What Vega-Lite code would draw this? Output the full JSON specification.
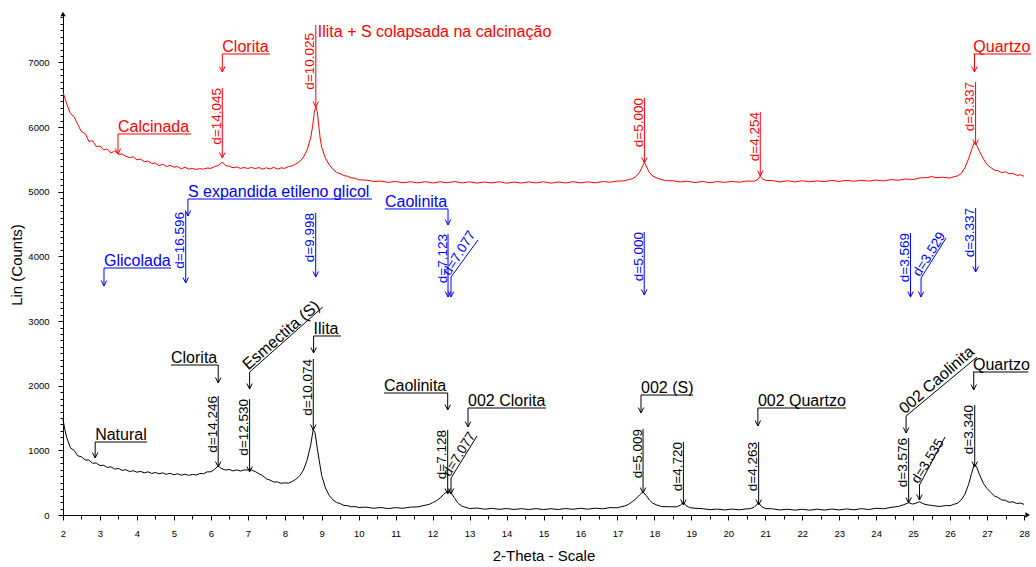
{
  "$schema": "https://vega.github.io/schema/vega-lite/v6.json",
  "width": 961,
  "height": 501,
  "autosize": {"type": "none"},
  "padding": {"left": 63, "top": 14, "right": 12, "bottom": 52},
  "background": "#ffffff",
  "config": {
    "view": {"stroke": null},
    "font": "Liberation Sans",
    "axis": {
      "grid": false,
      "domainColor": "#000000",
      "tickColor": "#000000",
      "labelColor": "#000000",
      "titleColor": "#000000",
      "labelFont": "Liberation Sans",
      "titleFont": "Liberation Sans",
      "titleFontWeight": "normal",
      "titleFontSize": 15,
      "labelFontSize": 9.5,
      "labelOverlap": false,
      "labelFlush": false
    }
  },
  "datasets": {
    "scans": [
      {"series": "Calcinada", "theta": 2.0, "counts": 6540},
      {"series": "Calcinada", "theta": 2.1, "counts": 6360},
      {"series": "Calcinada", "theta": 2.2, "counts": 6210},
      {"series": "Calcinada", "theta": 2.3, "counts": 6160},
      {"series": "Calcinada", "theta": 2.4, "counts": 6040},
      {"series": "Calcinada", "theta": 2.5, "counts": 5930},
      {"series": "Calcinada", "theta": 2.6, "counts": 5900},
      {"series": "Calcinada", "theta": 2.7, "counts": 5780},
      {"series": "Calcinada", "theta": 2.8, "counts": 5790},
      {"series": "Calcinada", "theta": 2.9, "counts": 5700},
      {"series": "Calcinada", "theta": 3.0, "counts": 5705},
      {"series": "Calcinada", "theta": 3.1, "counts": 5650},
      {"series": "Calcinada", "theta": 3.2, "counts": 5660},
      {"series": "Calcinada", "theta": 3.3, "counts": 5600},
      {"series": "Calcinada", "theta": 3.4, "counts": 5630},
      {"series": "Calcinada", "theta": 3.5, "counts": 5580},
      {"series": "Calcinada", "theta": 3.6, "counts": 5585},
      {"series": "Calcinada", "theta": 3.7, "counts": 5550},
      {"series": "Calcinada", "theta": 3.8, "counts": 5530},
      {"series": "Calcinada", "theta": 3.9, "counts": 5540},
      {"series": "Calcinada", "theta": 4.0, "counts": 5495},
      {"series": "Calcinada", "theta": 4.1, "counts": 5505},
      {"series": "Calcinada", "theta": 4.2, "counts": 5465},
      {"series": "Calcinada", "theta": 4.3, "counts": 5475},
      {"series": "Calcinada", "theta": 4.4, "counts": 5440},
      {"series": "Calcinada", "theta": 4.5, "counts": 5445},
      {"series": "Calcinada", "theta": 4.6, "counts": 5405},
      {"series": "Calcinada", "theta": 4.7, "counts": 5425},
      {"series": "Calcinada", "theta": 4.8, "counts": 5390},
      {"series": "Calcinada", "theta": 4.9, "counts": 5410},
      {"series": "Calcinada", "theta": 5.0, "counts": 5380},
      {"series": "Calcinada", "theta": 5.1, "counts": 5390},
      {"series": "Calcinada", "theta": 5.2, "counts": 5355},
      {"series": "Calcinada", "theta": 5.3, "counts": 5380},
      {"series": "Calcinada", "theta": 5.4, "counts": 5350},
      {"series": "Calcinada", "theta": 5.5, "counts": 5362},
      {"series": "Calcinada", "theta": 5.6, "counts": 5345},
      {"series": "Calcinada", "theta": 5.7, "counts": 5358},
      {"series": "Calcinada", "theta": 5.8, "counts": 5350},
      {"series": "Calcinada", "theta": 5.9, "counts": 5368},
      {"series": "Calcinada", "theta": 6.0, "counts": 5362},
      {"series": "Calcinada", "theta": 6.1, "counts": 5390},
      {"series": "Calcinada", "theta": 6.2, "counts": 5405},
      {"series": "Calcinada", "theta": 6.3, "counts": 5455},
      {"series": "Calcinada", "theta": 6.35, "counts": 5440},
      {"series": "Calcinada", "theta": 6.4, "counts": 5405},
      {"series": "Calcinada", "theta": 6.5, "counts": 5395},
      {"series": "Calcinada", "theta": 6.6, "counts": 5372},
      {"series": "Calcinada", "theta": 6.7, "counts": 5385},
      {"series": "Calcinada", "theta": 6.8, "counts": 5362},
      {"series": "Calcinada", "theta": 6.9, "counts": 5375},
      {"series": "Calcinada", "theta": 7.0, "counts": 5360},
      {"series": "Calcinada", "theta": 7.1, "counts": 5378},
      {"series": "Calcinada", "theta": 7.2, "counts": 5358},
      {"series": "Calcinada", "theta": 7.3, "counts": 5375},
      {"series": "Calcinada", "theta": 7.4, "counts": 5350},
      {"series": "Calcinada", "theta": 7.5, "counts": 5372},
      {"series": "Calcinada", "theta": 7.6, "counts": 5352},
      {"series": "Calcinada", "theta": 7.7, "counts": 5378},
      {"series": "Calcinada", "theta": 7.8, "counts": 5350},
      {"series": "Calcinada", "theta": 7.9, "counts": 5370},
      {"series": "Calcinada", "theta": 8.0, "counts": 5362},
      {"series": "Calcinada", "theta": 8.1, "counts": 5390},
      {"series": "Calcinada", "theta": 8.2, "counts": 5400},
      {"series": "Calcinada", "theta": 8.3, "counts": 5430},
      {"series": "Calcinada", "theta": 8.4, "counts": 5465},
      {"series": "Calcinada", "theta": 8.5, "counts": 5530},
      {"series": "Calcinada", "theta": 8.6, "counts": 5640},
      {"series": "Calcinada", "theta": 8.7, "counts": 5830},
      {"series": "Calcinada", "theta": 8.75, "counts": 6000},
      {"series": "Calcinada", "theta": 8.8, "counts": 6230},
      {"series": "Calcinada", "theta": 8.84, "counts": 6320},
      {"series": "Calcinada", "theta": 8.88, "counts": 6240},
      {"series": "Calcinada", "theta": 8.92, "counts": 6020},
      {"series": "Calcinada", "theta": 8.96, "counts": 5820},
      {"series": "Calcinada", "theta": 9.0, "counts": 5690},
      {"series": "Calcinada", "theta": 9.1, "counts": 5520},
      {"series": "Calcinada", "theta": 9.2, "counts": 5420},
      {"series": "Calcinada", "theta": 9.3, "counts": 5350},
      {"series": "Calcinada", "theta": 9.4, "counts": 5300},
      {"series": "Calcinada", "theta": 9.5, "counts": 5280},
      {"series": "Calcinada", "theta": 9.6, "counts": 5250},
      {"series": "Calcinada", "theta": 9.7, "counts": 5240},
      {"series": "Calcinada", "theta": 9.8, "counts": 5215},
      {"series": "Calcinada", "theta": 9.9, "counts": 5210},
      {"series": "Calcinada", "theta": 10.0, "counts": 5185},
      {"series": "Calcinada", "theta": 10.2, "counts": 5180},
      {"series": "Calcinada", "theta": 10.4, "counts": 5160},
      {"series": "Calcinada", "theta": 10.6, "counts": 5165},
      {"series": "Calcinada", "theta": 10.8, "counts": 5145},
      {"series": "Calcinada", "theta": 11.0, "counts": 5160},
      {"series": "Calcinada", "theta": 11.2, "counts": 5140},
      {"series": "Calcinada", "theta": 11.4, "counts": 5155},
      {"series": "Calcinada", "theta": 11.6, "counts": 5138},
      {"series": "Calcinada", "theta": 11.8, "counts": 5156},
      {"series": "Calcinada", "theta": 12.0, "counts": 5136},
      {"series": "Calcinada", "theta": 12.2, "counts": 5155},
      {"series": "Calcinada", "theta": 12.4, "counts": 5140},
      {"series": "Calcinada", "theta": 12.6, "counts": 5158},
      {"series": "Calcinada", "theta": 12.8, "counts": 5137},
      {"series": "Calcinada", "theta": 13.0, "counts": 5154},
      {"series": "Calcinada", "theta": 13.2, "counts": 5134},
      {"series": "Calcinada", "theta": 13.4, "counts": 5152},
      {"series": "Calcinada", "theta": 13.6, "counts": 5136},
      {"series": "Calcinada", "theta": 13.8, "counts": 5155},
      {"series": "Calcinada", "theta": 14.0, "counts": 5133},
      {"series": "Calcinada", "theta": 14.2, "counts": 5150},
      {"series": "Calcinada", "theta": 14.4, "counts": 5135},
      {"series": "Calcinada", "theta": 14.6, "counts": 5153},
      {"series": "Calcinada", "theta": 14.8, "counts": 5137},
      {"series": "Calcinada", "theta": 15.0, "counts": 5155},
      {"series": "Calcinada", "theta": 15.2, "counts": 5134},
      {"series": "Calcinada", "theta": 15.4, "counts": 5151},
      {"series": "Calcinada", "theta": 15.6, "counts": 5136},
      {"series": "Calcinada", "theta": 15.8, "counts": 5156},
      {"series": "Calcinada", "theta": 16.0, "counts": 5138},
      {"series": "Calcinada", "theta": 16.2, "counts": 5153},
      {"series": "Calcinada", "theta": 16.4, "counts": 5139},
      {"series": "Calcinada", "theta": 16.6, "counts": 5158},
      {"series": "Calcinada", "theta": 16.8, "counts": 5148},
      {"series": "Calcinada", "theta": 17.0, "counts": 5165},
      {"series": "Calcinada", "theta": 17.2, "counts": 5170},
      {"series": "Calcinada", "theta": 17.3, "counts": 5190},
      {"series": "Calcinada", "theta": 17.4, "counts": 5200},
      {"series": "Calcinada", "theta": 17.5, "counts": 5235},
      {"series": "Calcinada", "theta": 17.6, "counts": 5300},
      {"series": "Calcinada", "theta": 17.68, "counts": 5400},
      {"series": "Calcinada", "theta": 17.73, "counts": 5450},
      {"series": "Calcinada", "theta": 17.78, "counts": 5400},
      {"series": "Calcinada", "theta": 17.85, "counts": 5310},
      {"series": "Calcinada", "theta": 17.95, "counts": 5245},
      {"series": "Calcinada", "theta": 18.1, "counts": 5205},
      {"series": "Calcinada", "theta": 18.3, "counts": 5172},
      {"series": "Calcinada", "theta": 18.5, "counts": 5170},
      {"series": "Calcinada", "theta": 18.7, "counts": 5152},
      {"series": "Calcinada", "theta": 18.9, "counts": 5162},
      {"series": "Calcinada", "theta": 19.1, "counts": 5142},
      {"series": "Calcinada", "theta": 19.3, "counts": 5160},
      {"series": "Calcinada", "theta": 19.5, "counts": 5140},
      {"series": "Calcinada", "theta": 19.7, "counts": 5158},
      {"series": "Calcinada", "theta": 19.9, "counts": 5145},
      {"series": "Calcinada", "theta": 20.1, "counts": 5160},
      {"series": "Calcinada", "theta": 20.3, "counts": 5148},
      {"series": "Calcinada", "theta": 20.5, "counts": 5166},
      {"series": "Calcinada", "theta": 20.7, "counts": 5165},
      {"series": "Calcinada", "theta": 20.8, "counts": 5190},
      {"series": "Calcinada", "theta": 20.86, "counts": 5240},
      {"series": "Calcinada", "theta": 20.92, "counts": 5200},
      {"series": "Calcinada", "theta": 21.0, "counts": 5178},
      {"series": "Calcinada", "theta": 21.2, "counts": 5172},
      {"series": "Calcinada", "theta": 21.4, "counts": 5152},
      {"series": "Calcinada", "theta": 21.6, "counts": 5170},
      {"series": "Calcinada", "theta": 21.8, "counts": 5152},
      {"series": "Calcinada", "theta": 22.0, "counts": 5170},
      {"series": "Calcinada", "theta": 22.2, "counts": 5155},
      {"series": "Calcinada", "theta": 22.4, "counts": 5168},
      {"series": "Calcinada", "theta": 22.6, "counts": 5158},
      {"series": "Calcinada", "theta": 22.8, "counts": 5175},
      {"series": "Calcinada", "theta": 23.0, "counts": 5160},
      {"series": "Calcinada", "theta": 23.2, "counts": 5176},
      {"series": "Calcinada", "theta": 23.4, "counts": 5163},
      {"series": "Calcinada", "theta": 23.6, "counts": 5178},
      {"series": "Calcinada", "theta": 23.8, "counts": 5165},
      {"series": "Calcinada", "theta": 24.0, "counts": 5182},
      {"series": "Calcinada", "theta": 24.2, "counts": 5168},
      {"series": "Calcinada", "theta": 24.4, "counts": 5188},
      {"series": "Calcinada", "theta": 24.6, "counts": 5178},
      {"series": "Calcinada", "theta": 24.8, "counts": 5198},
      {"series": "Calcinada", "theta": 25.0, "counts": 5190},
      {"series": "Calcinada", "theta": 25.2, "counts": 5215},
      {"series": "Calcinada", "theta": 25.4, "counts": 5220},
      {"series": "Calcinada", "theta": 25.5, "counts": 5238},
      {"series": "Calcinada", "theta": 25.6, "counts": 5218},
      {"series": "Calcinada", "theta": 25.8, "counts": 5225},
      {"series": "Calcinada", "theta": 26.0, "counts": 5212},
      {"series": "Calcinada", "theta": 26.1, "counts": 5232},
      {"series": "Calcinada", "theta": 26.2, "counts": 5245},
      {"series": "Calcinada", "theta": 26.3, "counts": 5280},
      {"series": "Calcinada", "theta": 26.4, "counts": 5370},
      {"series": "Calcinada", "theta": 26.5, "counts": 5510},
      {"series": "Calcinada", "theta": 26.6, "counts": 5680},
      {"series": "Calcinada", "theta": 26.66, "counts": 5770},
      {"series": "Calcinada", "theta": 26.72, "counts": 5720},
      {"series": "Calcinada", "theta": 26.8, "counts": 5620},
      {"series": "Calcinada", "theta": 26.9, "counts": 5510},
      {"series": "Calcinada", "theta": 27.0, "counts": 5420},
      {"series": "Calcinada", "theta": 27.1, "counts": 5375},
      {"series": "Calcinada", "theta": 27.2, "counts": 5335},
      {"series": "Calcinada", "theta": 27.3, "counts": 5325},
      {"series": "Calcinada", "theta": 27.4, "counts": 5295},
      {"series": "Calcinada", "theta": 27.5, "counts": 5310},
      {"series": "Calcinada", "theta": 27.6, "counts": 5278},
      {"series": "Calcinada", "theta": 27.7, "counts": 5285},
      {"series": "Calcinada", "theta": 27.8, "counts": 5255},
      {"series": "Calcinada", "theta": 27.9, "counts": 5262},
      {"series": "Calcinada", "theta": 28.0, "counts": 5240},
      {"series": "Natural", "theta": 2.0, "counts": 1480},
      {"series": "Natural", "theta": 2.05, "counts": 1320},
      {"series": "Natural", "theta": 2.1, "counts": 1200},
      {"series": "Natural", "theta": 2.2, "counts": 1040},
      {"series": "Natural", "theta": 2.3, "counts": 1000},
      {"series": "Natural", "theta": 2.4, "counts": 915},
      {"series": "Natural", "theta": 2.5, "counts": 900},
      {"series": "Natural", "theta": 2.6, "counts": 850},
      {"series": "Natural", "theta": 2.7, "counts": 850},
      {"series": "Natural", "theta": 2.8, "counts": 800},
      {"series": "Natural", "theta": 2.9, "counts": 805},
      {"series": "Natural", "theta": 3.0, "counts": 765},
      {"series": "Natural", "theta": 3.1, "counts": 770},
      {"series": "Natural", "theta": 3.2, "counts": 735},
      {"series": "Natural", "theta": 3.3, "counts": 745},
      {"series": "Natural", "theta": 3.4, "counts": 710},
      {"series": "Natural", "theta": 3.5, "counts": 720},
      {"series": "Natural", "theta": 3.6, "counts": 690},
      {"series": "Natural", "theta": 3.7, "counts": 700},
      {"series": "Natural", "theta": 3.8, "counts": 672},
      {"series": "Natural", "theta": 3.9, "counts": 685},
      {"series": "Natural", "theta": 4.0, "counts": 662},
      {"series": "Natural", "theta": 4.1, "counts": 675},
      {"series": "Natural", "theta": 4.2, "counts": 652},
      {"series": "Natural", "theta": 4.3, "counts": 668},
      {"series": "Natural", "theta": 4.4, "counts": 642},
      {"series": "Natural", "theta": 4.5, "counts": 658},
      {"series": "Natural", "theta": 4.6, "counts": 638},
      {"series": "Natural", "theta": 4.7, "counts": 652},
      {"series": "Natural", "theta": 4.8, "counts": 628},
      {"series": "Natural", "theta": 4.9, "counts": 645},
      {"series": "Natural", "theta": 5.0, "counts": 622},
      {"series": "Natural", "theta": 5.1, "counts": 638},
      {"series": "Natural", "theta": 5.2, "counts": 615},
      {"series": "Natural", "theta": 5.3, "counts": 632},
      {"series": "Natural", "theta": 5.4, "counts": 612},
      {"series": "Natural", "theta": 5.5, "counts": 628},
      {"series": "Natural", "theta": 5.6, "counts": 618},
      {"series": "Natural", "theta": 5.7, "counts": 642},
      {"series": "Natural", "theta": 5.8, "counts": 638},
      {"series": "Natural", "theta": 5.9, "counts": 668},
      {"series": "Natural", "theta": 6.0, "counts": 668},
      {"series": "Natural", "theta": 6.1, "counts": 705},
      {"series": "Natural", "theta": 6.2, "counts": 760},
      {"series": "Natural", "theta": 6.25, "counts": 735},
      {"series": "Natural", "theta": 6.3, "counts": 715},
      {"series": "Natural", "theta": 6.4, "counts": 695},
      {"series": "Natural", "theta": 6.5, "counts": 705},
      {"series": "Natural", "theta": 6.6, "counts": 682},
      {"series": "Natural", "theta": 6.7, "counts": 698},
      {"series": "Natural", "theta": 6.8, "counts": 680},
      {"series": "Natural", "theta": 6.9, "counts": 698},
      {"series": "Natural", "theta": 7.0, "counts": 695},
      {"series": "Natural", "theta": 7.05, "counts": 720},
      {"series": "Natural", "theta": 7.1, "counts": 695},
      {"series": "Natural", "theta": 7.2, "counts": 672},
      {"series": "Natural", "theta": 7.3, "counts": 640},
      {"series": "Natural", "theta": 7.4, "counts": 610},
      {"series": "Natural", "theta": 7.5, "counts": 560},
      {"series": "Natural", "theta": 7.6, "counts": 540},
      {"series": "Natural", "theta": 7.7, "counts": 510},
      {"series": "Natural", "theta": 7.8, "counts": 512},
      {"series": "Natural", "theta": 7.9, "counts": 490},
      {"series": "Natural", "theta": 8.0, "counts": 498},
      {"series": "Natural", "theta": 8.1, "counts": 492},
      {"series": "Natural", "theta": 8.2, "counts": 518},
      {"series": "Natural", "theta": 8.3, "counts": 552},
      {"series": "Natural", "theta": 8.4, "counts": 605},
      {"series": "Natural", "theta": 8.5, "counts": 690},
      {"series": "Natural", "theta": 8.6, "counts": 840},
      {"series": "Natural", "theta": 8.7, "counts": 1080},
      {"series": "Natural", "theta": 8.77, "counts": 1320},
      {"series": "Natural", "theta": 8.82, "counts": 1270},
      {"series": "Natural", "theta": 8.88, "counts": 1030},
      {"series": "Natural", "theta": 8.95, "counts": 780},
      {"series": "Natural", "theta": 9.0, "counts": 610},
      {"series": "Natural", "theta": 9.1, "counts": 420},
      {"series": "Natural", "theta": 9.2, "counts": 305},
      {"series": "Natural", "theta": 9.3, "counts": 235},
      {"series": "Natural", "theta": 9.4, "counts": 195},
      {"series": "Natural", "theta": 9.5, "counts": 175},
      {"series": "Natural", "theta": 9.6, "counts": 148},
      {"series": "Natural", "theta": 9.7, "counts": 145},
      {"series": "Natural", "theta": 9.8, "counts": 126},
      {"series": "Natural", "theta": 9.9, "counts": 132},
      {"series": "Natural", "theta": 10.0, "counts": 116},
      {"series": "Natural", "theta": 10.2, "counts": 122},
      {"series": "Natural", "theta": 10.4, "counts": 104},
      {"series": "Natural", "theta": 10.6, "counts": 116},
      {"series": "Natural", "theta": 10.8, "counts": 99},
      {"series": "Natural", "theta": 11.0, "counts": 114},
      {"series": "Natural", "theta": 11.2, "counts": 104},
      {"series": "Natural", "theta": 11.4, "counts": 122},
      {"series": "Natural", "theta": 11.6, "counts": 126},
      {"series": "Natural", "theta": 11.8, "counts": 152},
      {"series": "Natural", "theta": 11.9, "counts": 162},
      {"series": "Natural", "theta": 12.0, "counts": 190},
      {"series": "Natural", "theta": 12.1, "counts": 220},
      {"series": "Natural", "theta": 12.2, "counts": 260},
      {"series": "Natural", "theta": 12.3, "counts": 320},
      {"series": "Natural", "theta": 12.41, "counts": 370},
      {"series": "Natural", "theta": 12.5, "counts": 345},
      {"series": "Natural", "theta": 12.6, "counts": 255},
      {"series": "Natural", "theta": 12.7, "counts": 175},
      {"series": "Natural", "theta": 12.8, "counts": 135},
      {"series": "Natural", "theta": 12.9, "counts": 118},
      {"series": "Natural", "theta": 13.0, "counts": 100},
      {"series": "Natural", "theta": 13.2, "counts": 108},
      {"series": "Natural", "theta": 13.4, "counts": 90},
      {"series": "Natural", "theta": 13.6, "counts": 102},
      {"series": "Natural", "theta": 13.8, "counts": 88},
      {"series": "Natural", "theta": 14.0, "counts": 100},
      {"series": "Natural", "theta": 14.2, "counts": 86},
      {"series": "Natural", "theta": 14.4, "counts": 98},
      {"series": "Natural", "theta": 14.6, "counts": 85},
      {"series": "Natural", "theta": 14.8, "counts": 99},
      {"series": "Natural", "theta": 15.0, "counts": 84},
      {"series": "Natural", "theta": 15.2, "counts": 97},
      {"series": "Natural", "theta": 15.4, "counts": 85},
      {"series": "Natural", "theta": 15.6, "counts": 100},
      {"series": "Natural", "theta": 15.8, "counts": 88},
      {"series": "Natural", "theta": 16.0, "counts": 104},
      {"series": "Natural", "theta": 16.2, "counts": 90},
      {"series": "Natural", "theta": 16.4, "counts": 106},
      {"series": "Natural", "theta": 16.6, "counts": 96},
      {"series": "Natural", "theta": 16.8, "counts": 114},
      {"series": "Natural", "theta": 17.0, "counts": 112},
      {"series": "Natural", "theta": 17.1, "counts": 128},
      {"series": "Natural", "theta": 17.2, "counts": 140},
      {"series": "Natural", "theta": 17.3, "counts": 165},
      {"series": "Natural", "theta": 17.4, "counts": 205},
      {"series": "Natural", "theta": 17.5, "counts": 250},
      {"series": "Natural", "theta": 17.6, "counts": 310},
      {"series": "Natural", "theta": 17.69, "counts": 360},
      {"series": "Natural", "theta": 17.78, "counts": 300},
      {"series": "Natural", "theta": 17.87, "counts": 230},
      {"series": "Natural", "theta": 17.95, "counts": 185},
      {"series": "Natural", "theta": 18.05, "counts": 158},
      {"series": "Natural", "theta": 18.2, "counts": 130},
      {"series": "Natural", "theta": 18.4, "counts": 128},
      {"series": "Natural", "theta": 18.6, "counts": 126},
      {"series": "Natural", "theta": 18.7, "counts": 150},
      {"series": "Natural", "theta": 18.78, "counts": 195},
      {"series": "Natural", "theta": 18.85, "counts": 150},
      {"series": "Natural", "theta": 18.95, "counts": 115},
      {"series": "Natural", "theta": 19.1, "counts": 104},
      {"series": "Natural", "theta": 19.3, "counts": 98},
      {"series": "Natural", "theta": 19.5, "counts": 82},
      {"series": "Natural", "theta": 19.7, "counts": 92},
      {"series": "Natural", "theta": 19.9, "counts": 78},
      {"series": "Natural", "theta": 20.1, "counts": 92},
      {"series": "Natural", "theta": 20.3, "counts": 80},
      {"series": "Natural", "theta": 20.5, "counts": 96},
      {"series": "Natural", "theta": 20.6, "counts": 98},
      {"series": "Natural", "theta": 20.7, "counts": 120},
      {"series": "Natural", "theta": 20.82, "counts": 190},
      {"series": "Natural", "theta": 20.9, "counts": 130},
      {"series": "Natural", "theta": 21.0, "counts": 100},
      {"series": "Natural", "theta": 21.2, "counts": 95},
      {"series": "Natural", "theta": 21.4, "counts": 78},
      {"series": "Natural", "theta": 21.6, "counts": 90},
      {"series": "Natural", "theta": 21.8, "counts": 75},
      {"series": "Natural", "theta": 22.0, "counts": 88},
      {"series": "Natural", "theta": 22.2, "counts": 74},
      {"series": "Natural", "theta": 22.4, "counts": 90},
      {"series": "Natural", "theta": 22.6, "counts": 76},
      {"series": "Natural", "theta": 22.8, "counts": 92},
      {"series": "Natural", "theta": 23.0, "counts": 78},
      {"series": "Natural", "theta": 23.2, "counts": 95},
      {"series": "Natural", "theta": 23.4, "counts": 80},
      {"series": "Natural", "theta": 23.6, "counts": 98},
      {"series": "Natural", "theta": 23.8, "counts": 85},
      {"series": "Natural", "theta": 24.0, "counts": 104},
      {"series": "Natural", "theta": 24.2, "counts": 96},
      {"series": "Natural", "theta": 24.4, "counts": 118},
      {"series": "Natural", "theta": 24.6, "counts": 132},
      {"series": "Natural", "theta": 24.75, "counts": 160},
      {"series": "Natural", "theta": 24.88, "counts": 190},
      {"series": "Natural", "theta": 24.98, "counts": 170},
      {"series": "Natural", "theta": 25.06, "counts": 178},
      {"series": "Natural", "theta": 25.17, "counts": 205},
      {"series": "Natural", "theta": 25.25, "counts": 180},
      {"series": "Natural", "theta": 25.35, "counts": 160},
      {"series": "Natural", "theta": 25.5, "counts": 148},
      {"series": "Natural", "theta": 25.7, "counts": 132},
      {"series": "Natural", "theta": 25.9, "counts": 146},
      {"series": "Natural", "theta": 26.0, "counts": 145},
      {"series": "Natural", "theta": 26.1, "counts": 165},
      {"series": "Natural", "theta": 26.2, "counts": 182},
      {"series": "Natural", "theta": 26.3, "counts": 230},
      {"series": "Natural", "theta": 26.4, "counts": 320},
      {"series": "Natural", "theta": 26.5, "counts": 470},
      {"series": "Natural", "theta": 26.58, "counts": 640},
      {"series": "Natural", "theta": 26.66, "counts": 790},
      {"series": "Natural", "theta": 26.72, "counts": 740},
      {"series": "Natural", "theta": 26.8, "counts": 620},
      {"series": "Natural", "theta": 26.9, "counts": 490},
      {"series": "Natural", "theta": 27.0, "counts": 410},
      {"series": "Natural", "theta": 27.1, "counts": 350},
      {"series": "Natural", "theta": 27.2, "counts": 295},
      {"series": "Natural", "theta": 27.3, "counts": 270},
      {"series": "Natural", "theta": 27.4, "counts": 232},
      {"series": "Natural", "theta": 27.5, "counts": 228},
      {"series": "Natural", "theta": 27.6, "counts": 196},
      {"series": "Natural", "theta": 27.7, "counts": 205},
      {"series": "Natural", "theta": 27.8, "counts": 178},
      {"series": "Natural", "theta": 27.9, "counts": 185},
      {"series": "Natural", "theta": 28.0, "counts": 165}
    ],
    "peaks": [
      {"series": "Calcinada", "label": "d=14.045", "theta": 6.31, "top": 6605, "tip": 5522, "labelTop": 6605},
      {"series": "Calcinada", "label": "d=10.025", "theta": 8.84, "top": 7580, "tip": 6311, "labelTop": 7456},
      {"series": "Calcinada", "label": "d=5.000", "theta": 17.73, "top": 6451, "tip": 5445, "labelTop": 6451},
      {"series": "Calcinada", "label": "d=4.254", "theta": 20.865, "top": 6234, "tip": 5244, "labelTop": 6234},
      {"series": "Calcinada", "label": "d=3.337", "theta": 26.69, "top": 6698, "tip": 5724, "labelTop": 6698},
      {"series": "Glicolada", "label": "d=16.596", "theta": 5.321, "top": 4687, "tip": 3589, "labelTop": 4687},
      {"series": "Glicolada", "label": "d=9.998", "theta": 8.837, "top": 4672, "tip": 3682, "labelTop": 4672},
      {"series": "Glicolada", "label": "d=7.123", "theta": 12.417, "top": 4347, "tip": 3372, "labelTop": 4347},
      {"series": "Glicolada", "label": "d=7.077", "theta": 12.498, "top": 3682, "tip": 3372, "labelTop": 3682, "slant": true, "endTheta": 13.228, "endCounts": 4254},
      {"series": "Glicolada", "label": "d=5.000", "theta": 17.725, "top": 4378, "tip": 3403, "labelTop": 4378},
      {"series": "Glicolada", "label": "d=3.569", "theta": 24.929, "top": 4362, "tip": 3372, "labelTop": 4362},
      {"series": "Glicolada", "label": "d=3.529", "theta": 25.215, "top": 3666, "tip": 3372, "labelTop": 3666, "slant": true, "endTheta": 25.891, "endCounts": 4285},
      {"series": "Glicolada", "label": "d=3.337", "theta": 26.692, "top": 4749, "tip": 3759, "labelTop": 4749},
      {"series": "Natural", "label": "d=14.246", "theta": 6.199, "top": 1841, "tip": 742, "labelTop": 1841},
      {"series": "Natural", "label": "d=12.530", "theta": 7.049, "top": 1794, "tip": 665, "labelTop": 1794},
      {"series": "Natural", "label": "d=10.074", "theta": 8.771, "top": 2413, "tip": 1315, "labelTop": 2413},
      {"series": "Natural", "label": "d=7.128", "theta": 12.408, "top": 1315, "tip": 325, "labelTop": 1315},
      {"series": "Natural", "label": "d=7.077", "theta": 12.498, "top": 572, "tip": 325, "labelTop": 572, "slant": true, "endTheta": 13.201, "endCounts": 1222},
      {"series": "Natural", "label": "d=5.009", "theta": 17.693, "top": 1330, "tip": 340, "labelTop": 1330},
      {"series": "Natural", "label": "d=4.720", "theta": 18.785, "top": 1129, "tip": 155, "labelTop": 1129},
      {"series": "Natural", "label": "d=4.263", "theta": 20.821, "top": 1129, "tip": 155, "labelTop": 1129},
      {"series": "Natural", "label": "d=3.576", "theta": 24.879, "top": 1191, "tip": 186, "labelTop": 1191},
      {"series": "Natural", "label": "d=3.535", "theta": 25.172, "top": 464, "tip": 232, "labelTop": 464, "slant": true, "endTheta": 25.864, "endCounts": 1207},
      {"series": "Natural", "label": "d=3.340", "theta": 26.667, "top": 1702, "tip": 742, "labelTop": 1702}
    ],
    "phases": [
      {"series": "Calcinada", "name": "Calcinada", "x1": 3.488, "y1": 5894, "x2": 5.463, "y2": 5894, "drop": 3.488, "tip": 5584},
      {"series": "Calcinada", "name": "Clorita", "x1": 6.31, "y1": 7131, "x2": 7.601, "y2": 7131, "drop": 6.31, "tip": 6853},
      {"series": "Calcinada", "name": "Quartzo", "x1": 26.63, "y1": 7131, "x2": 28.19, "y2": 7131, "drop": 26.66, "tip": 6853},
      {"series": "Glicolada", "name": "Glicolada", "x1": 3.109, "y1": 3821, "x2": 4.922, "y2": 3821, "drop": 3.109, "tip": 3542},
      {"series": "Glicolada", "name": "S expandida etileno glicol", "x1": 5.38, "y1": 4888, "x2": 10.36, "y2": 4888, "drop": 5.38, "tip": 4625},
      {"series": "Glicolada", "name": "Caolinita", "x1": 10.71, "y1": 4734, "x2": 12.417, "y2": 4734, "drop": 12.417, "tip": 4486},
      {"series": "Natural", "name": "Natural", "x1": 2.87, "y1": 1129, "x2": 4.273, "y2": 1129, "drop": 2.87, "tip": 882},
      {"series": "Natural", "name": "Clorita", "x1": 4.922, "y1": 2320, "x2": 6.199, "y2": 2320, "drop": 6.199, "tip": 2042},
      {"series": "Natural", "name": "Esmectita (S)", "x1": 7.049, "y1": 2212, "x2": 9.03, "y2": 3218, "drop": 7.049, "tip": 1949, "slant": true},
      {"series": "Natural", "name": "Ilita", "x1": 8.78, "y1": 2769, "x2": 9.52, "y2": 2769, "drop": 8.78, "tip": 2506},
      {"series": "Natural", "name": "Caolinita", "x1": 10.685, "y1": 1887, "x2": 12.408, "y2": 1887, "drop": 12.408, "tip": 1624},
      {"series": "Natural", "name": "002 Clorita", "x1": 12.958, "y1": 1655, "x2": 15.07, "y2": 1655, "drop": 12.958, "tip": 1361},
      {"series": "Natural", "name": "002 (S)", "x1": 17.638, "y1": 1856, "x2": 19.05, "y2": 1856, "drop": 17.638, "tip": 1578},
      {"series": "Natural", "name": "002 Quartzo", "x1": 20.8, "y1": 1655, "x2": 23.185, "y2": 1655, "drop": 20.8, "tip": 1377},
      {"series": "Natural", "name": "002 Caolinita", "x1": 24.81, "y1": 1531, "x2": 26.73, "y2": 2444, "drop": 24.81, "tip": 1268, "slant": true},
      {"series": "Natural", "name": "Quartzo", "x1": 26.62, "y1": 2212, "x2": 28.11, "y2": 2212, "drop": 26.64, "tip": 1934}
    ],
    "notes": [
      {"series": "Calcinada", "text": "Ilita + S colapsada na calcinação", "theta": 8.84, "counts": 7394}
    ],
    "axisEnds": [
      {"theta": 2, "counts": 7750, "dir": "up"},
      {"theta": 28.1, "counts": 0, "dir": "right"}
    ]
  },
  "layer": [
    {
      "data": {"name": "scans"},
      "mark": {"type": "line", "strokeWidth": 1},
      "encoding": {
        "x": {
          "field": "theta", "type": "quantitative",
          "scale": {"domain": [2, 28], "nice": false, "zero": false},
          "axis": {
            "title": "2-Theta - Scale",
            "values": [2, 2.5, 3, 3.5, 4, 4.5, 5, 5.5, 6, 6.5, 7, 7.5, 8, 8.5, 9, 9.5, 10, 10.5, 11, 11.5, 12, 12.5, 13, 13.5, 14, 14.5, 15, 15.5, 16, 16.5, 17, 17.5, 18, 18.5, 19, 19.5, 20, 20.5, 21, 21.5, 22, 22.5, 23, 23.5, 24, 24.5, 25, 25.5, 26, 26.5, 27, 27.5, 28],
            "tickCount": 100,
            "labelExpr": "datum.value % 1 === 0 ? format(datum.value, 'd') : ''",
            "labelOverlap": false,
            "tickSize": {"condition": {"test": "datum.value % 1 === 0", "value": 5}, "value": 4},
            "labelPadding": 8,
            "titlePadding": 11
          }
        },
        "y": {
          "field": "counts", "type": "quantitative",
          "scale": {"domain": [0, 7750], "nice": false, "zero": false},
          "axis": {
            "title": "Lin (Counts)",
            "values": [0, 100, 200, 300, 400, 500, 600, 700, 800, 900, 1000, 1100, 1200, 1300, 1400, 1500, 1600, 1700, 1800, 1900, 2000, 2100, 2200, 2300, 2400, 2500, 2600, 2700, 2800, 2900, 3000, 3100, 3200, 3300, 3400, 3500, 3600, 3700, 3800, 3900, 4000, 4100, 4200, 4300, 4400, 4500, 4600, 4700, 4800, 4900, 5000, 5100, 5200, 5300, 5400, 5500, 5600, 5700, 5800, 5900, 6000, 6100, 6200, 6300, 6400, 6500, 6600, 6700, 6800, 6900, 7000, 7100, 7200, 7300, 7400, 7500, 7600, 7700],
            "tickCount": 100,
            "labelExpr": "datum.value % 1000 === 0 ? format(datum.value, 'd') : ''",
            "labelOverlap": false,
            "tickSize": {"condition": {"test": "datum.value % 1000 === 0", "value": 5}, "value": 3},
            "labelPadding": 9,
            "titlePadding": 3
          }
        },
        "color": {
          "field": "series", "type": "nominal",
          "scale": {"domain": ["Calcinada", "Glicolada", "Natural"], "range": ["#ff0000", "#0000ff", "#000000"]},
          "legend": null
        }
      }
    },
    {
      "data": {"name": "peaks"},
      "mark": {"type": "rule", "strokeWidth": 1},
      "encoding": {
        "x": {"field": "theta", "type": "quantitative"},
        "y": {"field": "top", "type": "quantitative"},
        "y2": {"field": "tip"},
        "color": {"field": "series", "type": "nominal", "legend": null}
      }
    },
    {
      "data": {"name": "peaks"},
      "mark": {"type": "point", "shape": "M-0.5,-1L0,0L0.5,-1", "size": 121, "filled": false, "strokeWidth": 1, "opacity": 1},
      "encoding": {
        "x": {"field": "theta", "type": "quantitative"},
        "y": {"field": "tip", "type": "quantitative"},
        "color": {"field": "series", "type": "nominal", "legend": null}
      }
    },
    {
      "data": {"name": "peaks"},
      "transform": [{"filter": "!datum.slant"}],
      "mark": {"type": "text", "angle": 270, "align": "right", "baseline": "alphabetic", "fontSize": 13.5, "dy": -1.5},
      "encoding": {
        "x": {"field": "theta", "type": "quantitative"},
        "y": {"field": "labelTop", "type": "quantitative"},
        "text": {"field": "label"},
        "color": {"field": "series", "type": "nominal", "legend": null}
      }
    },
    {
      "data": {"name": "peaks"},
      "transform": [{"filter": "datum.slant"}],
      "mark": {"type": "rule", "strokeWidth": 1},
      "encoding": {
        "x": {"field": "theta", "type": "quantitative"},
        "y": {"field": "top", "type": "quantitative"},
        "x2": {"field": "endTheta"},
        "y2": {"field": "endCounts"},
        "color": {"field": "series", "type": "nominal", "legend": null}
      }
    },
    {
      "data": {"name": "peaks"},
      "transform": [{"filter": "datum.slant"}],
      "mark": {"type": "text", "angle": 302, "align": "left", "baseline": "alphabetic", "fontSize": 13.5, "dy": -1.5},
      "encoding": {
        "x": {"field": "theta", "type": "quantitative"},
        "y": {"field": "top", "type": "quantitative"},
        "text": {"field": "label"},
        "color": {"field": "series", "type": "nominal", "legend": null}
      }
    },
    {
      "data": {"name": "phases"},
      "mark": {"type": "rule", "strokeWidth": 1},
      "encoding": {
        "x": {"field": "x1", "type": "quantitative"},
        "y": {"field": "y1", "type": "quantitative"},
        "x2": {"field": "x2"},
        "y2": {"field": "y2"},
        "color": {"field": "series", "type": "nominal", "legend": null}
      }
    },
    {
      "data": {"name": "phases"},
      "mark": {"type": "rule", "strokeWidth": 1},
      "encoding": {
        "x": {"field": "drop", "type": "quantitative"},
        "y": {"field": "y1", "type": "quantitative"},
        "y2": {"field": "tip"},
        "color": {"field": "series", "type": "nominal", "legend": null}
      }
    },
    {
      "data": {"name": "phases"},
      "mark": {"type": "point", "shape": "M-0.5,-1L0,0L0.5,-1", "size": 121, "filled": false, "strokeWidth": 1, "opacity": 1},
      "encoding": {
        "x": {"field": "drop", "type": "quantitative"},
        "y": {"field": "tip", "type": "quantitative"},
        "color": {"field": "series", "type": "nominal", "legend": null}
      }
    },
    {
      "data": {"name": "phases"},
      "transform": [{"filter": "!datum.slant"}],
      "mark": {"type": "text", "align": "left", "baseline": "alphabetic", "fontSize": 16, "dy": -2},
      "encoding": {
        "x": {"field": "x1", "type": "quantitative"},
        "y": {"field": "y1", "type": "quantitative"},
        "text": {"field": "name"},
        "color": {"field": "series", "type": "nominal", "legend": null}
      }
    },
    {
      "data": {"name": "phases"},
      "transform": [{"filter": "datum.slant"}],
      "mark": {"type": "text", "angle": 319, "align": "left", "baseline": "alphabetic", "fontSize": 16, "dy": -2},
      "encoding": {
        "x": {"field": "x1", "type": "quantitative"},
        "y": {"field": "y1", "type": "quantitative"},
        "text": {"field": "name"},
        "color": {"field": "series", "type": "nominal", "legend": null}
      }
    },
    {
      "data": {"name": "notes"},
      "mark": {"type": "text", "align": "left", "baseline": "alphabetic", "fontSize": 16, "dx": 2},
      "encoding": {
        "x": {"field": "theta", "type": "quantitative"},
        "y": {"field": "counts", "type": "quantitative"},
        "text": {"field": "text"},
        "color": {"field": "series", "type": "nominal", "legend": null}
      }
    },
    {
      "data": {"name": "axisEnds"},
      "mark": {"type": "point", "filled": true, "size": 28, "color": "#000000", "opacity": 1},
      "encoding": {
        "x": {"field": "theta", "type": "quantitative"},
        "y": {"field": "counts", "type": "quantitative"},
        "shape": {"field": "dir", "type": "nominal", "scale": {"domain": ["up", "right"], "range": ["triangle-up", "triangle-right"]}, "legend": null}
      }
    }
  ]
}
